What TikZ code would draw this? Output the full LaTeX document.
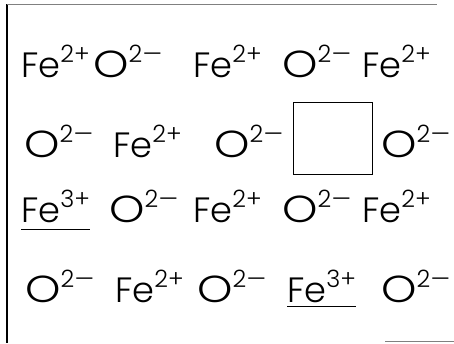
\documentclass[tikz,border=0pt]{standalone}
\usepackage{fontspec}
\setmainfont{Poppins}[UprightFont=* Light]
\usetikzlibrary{calc}
\tikzset{
    ion/.style={anchor=base west,inner sep=0pt,font=\fontsize{25}{25}\selectfont},
    vacancy/.style={semithick},
    uline/.style={thin},
    frameline/.style={thick},
    scanline/.style={thin,gray}
}
\newcommand{\chg}[1]{\raisebox{10.6pt}{\fontsize{17}{17}\selectfont #1}}
\newcommand{\fe}[1]{Fe\chg{#1}}
\newcommand{\ox}{\scalebox{1.28}[1.07]{O}\chg{2\scalebox{1.3}[1]{--}}}

\begin{document}
\begin{tikzpicture}[x=0.025cm,y=-0.025cm]
    \useasboundingbox (0,0) rectangle (454,343);
    % Frame
    \draw[frameline] (7,4) -- (7,343);
    \draw[scanline] (7,4) -- (437,4);
    \draw[scanline] (385,341) -- (454,341);
    % Row 1
    \node[ion] (r1a) at (21,77) {\fe{2+}};
    \node[ion] (r1b) at (93,77) {\ox};
    \node[ion] (r1c) at (193,77) {\fe{2+}};
    \node[ion] (r1d) at (282,77) {\ox};
    \node[ion] (r1e) at (362,77) {\fe{2+}};
    % Row 2
    \node[ion] (r2a) at (24,157) {\ox};
    \node[ion] (r2b) at (113,157) {\fe{2+}};
    \node[ion] (r2c) at (214,157) {\ox};
    \draw[vacancy] (293,102) rectangle (372,174);
    \node[ion] (r2e) at (381,157) {\ox};
    % Row 3
    \node[ion] (r3a) at (21,222) {\fe{3+}};
    \node[ion] (r3b) at (109,222) {\ox};
    \node[ion] (r3c) at (193,222) {\fe{2+}};
    \node[ion] (r3d) at (282,222) {\ox};
    \node[ion] (r3e) at (362,222) {\fe{2+}};
    \draw[uline] ($(r3a.base west)+(0,7)$) -- ($(r3a.base east)+(0,7)$);
    % Row 4
    \node[ion] (r4a) at (25,302) {\ox};
    \node[ion] (r4b) at (115,302) {\fe{2+}};
    \node[ion] (r4c) at (197,302) {\ox};
    \node[ion] (r4d) at (287,302) {\fe{3+}};
    \node[ion] (r4e) at (381,302) {\ox};
    \draw[uline] ($(r4d.base west)+(0,4)$) -- ($(r4d.base east)+(0,4)$);
\end{tikzpicture}
\end{document}
